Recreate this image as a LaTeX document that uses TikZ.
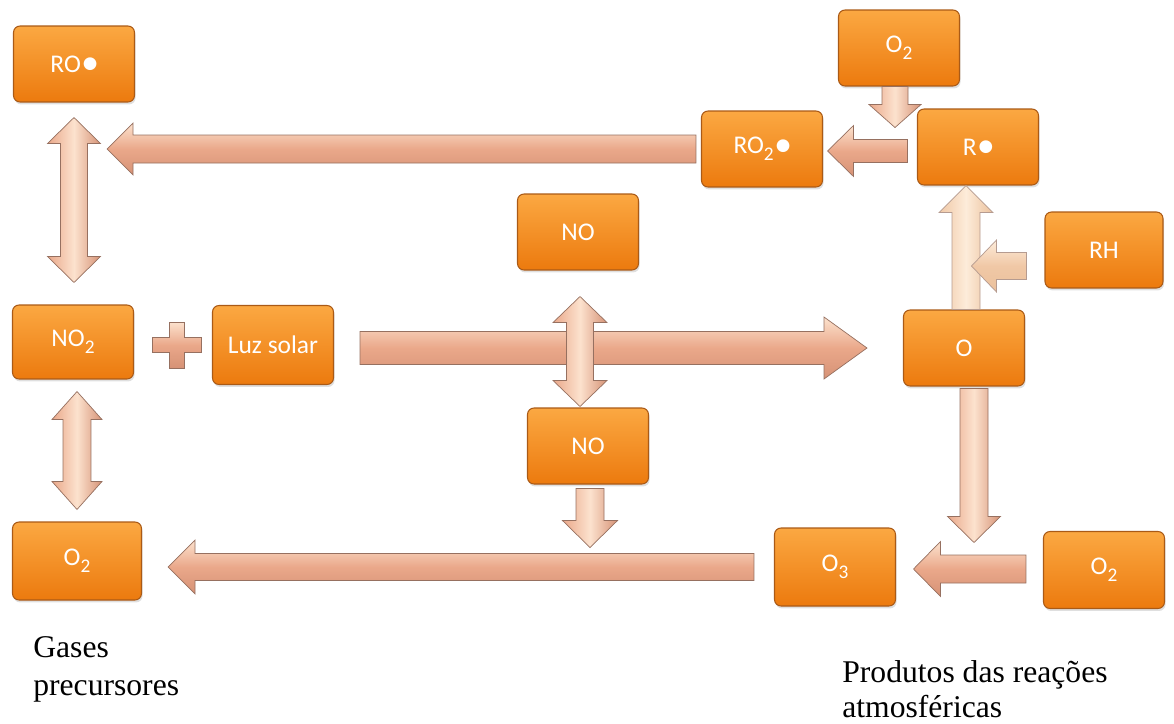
\documentclass[tikz,border=0pt]{standalone}
\usepackage{fontspec}
\setmainfont{Liberation Serif}
\newfontfamily\boxfont{Carlito}
\newfontfamily\symfont{DejaVu Sans}
\usetikzlibrary{calc,shadows}
\definecolor{boxtop}{RGB}{251,168,66}
\definecolor{boxbot}{RGB}{236,122,14}
\definecolor{boxline}{RGB}{170,90,22}
\definecolor{arredge}{RGB}{234,168,138}
\definecolor{arrdark}{RGB}{214,146,118}
\definecolor{arrmid}{RGB}{252,226,206}
\definecolor{arrline}{RGB}{150,112,96}
\definecolor{paleedge}{RGB}{240,200,166}
\definecolor{palemid}{RGB}{253,236,218}
\def\px{0.56905pt}
\newcommand\sbs[1]{\raisebox{-0.55ex}{\fontsize{11}{11}\selectfont #1}}
\newcommand\rad{\kern1.2pt\raisebox{0.3ex}{\symfont\fontsize{9.5}{9.5}\selectfont ●}}
% single block arrow: style, start, end, shaft half width, head half width, head length (px)
\newcommand\sarrow[6]{%
  \path[#1] let \p1=(#2), \p2=(#3), \n1={atan2(\y2-\y1,\x2-\x1)}, \n2={veclen(\x2-\x1,\y2-\y1)} in
  [shift={(\p1)}, rotate=\n1]
  (0pt,{-#4*\px}) -- ({\n2*1pt-#6*\px},{-#4*\px}) -- ({\n2*1pt-#6*\px},{-#5*\px}) -- ({\n2*1pt},0pt)
  -- ({\n2*1pt-#6*\px},{#5*\px}) -- ({\n2*1pt-#6*\px},{#4*\px}) -- (0pt,{#4*\px}) -- cycle;}
% double block arrow
\newcommand\darrow[6]{%
  \path[#1] let \p1=(#2), \p2=(#3), \n1={atan2(\y2-\y1,\x2-\x1)}, \n2={veclen(\x2-\x1,\y2-\y1)} in
  [shift={(\p1)}, rotate=\n1]
  (0pt,0pt) -- ({#6*\px},{#5*\px}) -- ({#6*\px},{#4*\px}) -- ({\n2*1pt-#6*\px},{#4*\px})
  -- ({\n2*1pt-#6*\px},{#5*\px}) -- ({\n2*1pt},0pt) -- ({\n2*1pt-#6*\px},{-#5*\px})
  -- ({\n2*1pt-#6*\px},{-#4*\px}) -- ({#6*\px},{-#4*\px}) -- ({#6*\px},{-#5*\px}) -- cycle;}
\begin{document}
\begin{tikzpicture}[x=0.02cm,y=-0.02cm,
  box/.style={rectangle, rounded corners=0.13cm, draw=boxline, line width=0.6pt,
    top color=boxtop, bottom color=boxbot, text=white,
    font=\boxfont\fontsize{14.5}{16}\selectfont,
    minimum width=2.42cm, minimum height=1.52cm, inner sep=0pt,
    drop shadow={opacity=0.25, shadow xshift=0.6pt, shadow yshift=-1.4pt}},
  arrH/.style={draw=arrline, line width=0.4pt, top color=arrmid, bottom color=arrdark, middle color=arredge},
  arrV/.style={draw=arrline, line width=0.4pt, left color=arredge, right color=arrdark, middle color=arrmid},
  paleV/.style={draw=arrline!70, line width=0.4pt, left color=paleedge, right color=paleedge!90!brown, middle color=palemid},
  paleH/.style={draw=arrline!70, line width=0.4pt, top color=palemid, bottom color=paleedge!90!brown, middle color=paleedge},
  lbl/.style={inner sep=0pt, align=left, text=black}]
\useasboundingbox (0,0) rectangle (1174,724);

% boxes
\node[box] (ro)  at (74,64)   {RO\rad};
\node[box] (ro2) at (762,149) {RO\sbs{2}\rad};
\node[box] (o2t) at (899,48)  {O\sbs{2}};
\node[box] (r)   at (978,147) {R\rad};
\node[box] (not) at (578,232) {NO};
\node[box, minimum width=2.36cm] (rh) at (1104,250) {RH};
\node[box, minimum height=1.48cm] (no2) at (73,342) {NO\sbs{2}};
\node[box, minimum height=1.58cm] (luz) at (273,345) {Luz solar};
\node[box] (o)   at (964,348) {O};
\node[box] (nom) at (588,446) {NO};
\node[box, minimum width=2.58cm, minimum height=1.56cm] (o2l) at (77,561) {O\sbs{2}};
\node[box, minimum height=1.56cm] (o3) at (835,567) {O\sbs{3}};
\node[box, minimum height=1.54cm] (o2r) at (1104,570) {O\sbs{2}};

% arrows
\sarrow{arrH}{$(ro2.west)+(-5,0)$}{$(ro.east |- ro2.west)+(-28,0)$}{14}{26}{26}
\darrow{arrV}{$(ro.south)+(0,15)$}{$(ro.south |- no2.north)+(0,-22)$}{13.5}{26.5}{26}
\darrow{arrV}{$(no2.south)+(4,12)$}{$(no2.south |- o2l.north)+(4,-12)$}{14}{25}{28}
\coordinate (plus) at (177,345);
\path[arrH, shift={(plus)}] (-24.5,-7.5) -- (-7.5,-7.5) -- (-7.5,-23) -- (7.5,-23) -- (7.5,-7.5)
  -- (24.5,-7.5) -- (24.5,7.5) -- (7.5,7.5) -- (7.5,23) -- (-7.5,23) -- (-7.5,7.5) -- (-24.5,7.5) -- cycle;
\sarrow{arrH}{$(luz.east)+(26,3)$}{$(o.west)+(-36,0)$}{16.5}{31}{43}
\darrow{arrV}{$(not.south)+(2,26)$}{$(not.south |- nom.north)+(2,-1)$}{13.5}{27}{26}
\sarrow{arrV}{$(nom.south)+(2,4)$}{$(nom.south)+(2,63)$}{14}{27.5}{27}
\sarrow{arrH}{$(o3.west)+(-20,0)$}{$(o2l.east |- o3.west)+(26,0)$}{13.5}{27}{27}
\sarrow{arrV}{$(o.south)+(10,2)$}{$(o.south |- o3.north)+(10,15)$}{14}{26.5}{26}
\sarrow{arrH}{$(o2r.west)+(-17,-1)$}{$(o3.east |- o2r.west)+(17.5,-1)$}{14}{27.5}{27}
\sarrow{arrV}{$(o2t.south)+(-4,0)$}{$(o2t.south)+(-4,41)$}{13}{26}{23}
\sarrow{arrH}{$(r.west)+(-9.5,4)$}{$(ro2.east |- r.west)+(4.5,4)$}{11.5}{25.5}{26}
\sarrow{paleV}{$(o.north)+(2,0)$}{$(o.north |- r.south)+(2,0)$}{14}{27}{27}
\sarrow{paleH}{$(rh.west)+(-18,16)$}{$(rh.west)+(-73,16)$}{13.5}{26}{25}

% labels
\node[lbl, anchor=north west, font=\fontsize{18}{21.6}\selectfont] (gases) at (33,636) {Gases\\precursores};
\node[lbl, anchor=north west, font=\fontsize{18}{20}\selectfont] (prod) at (842,660.5) {Produtos das reações\\atmosféricas};
\end{tikzpicture}
\end{document}
